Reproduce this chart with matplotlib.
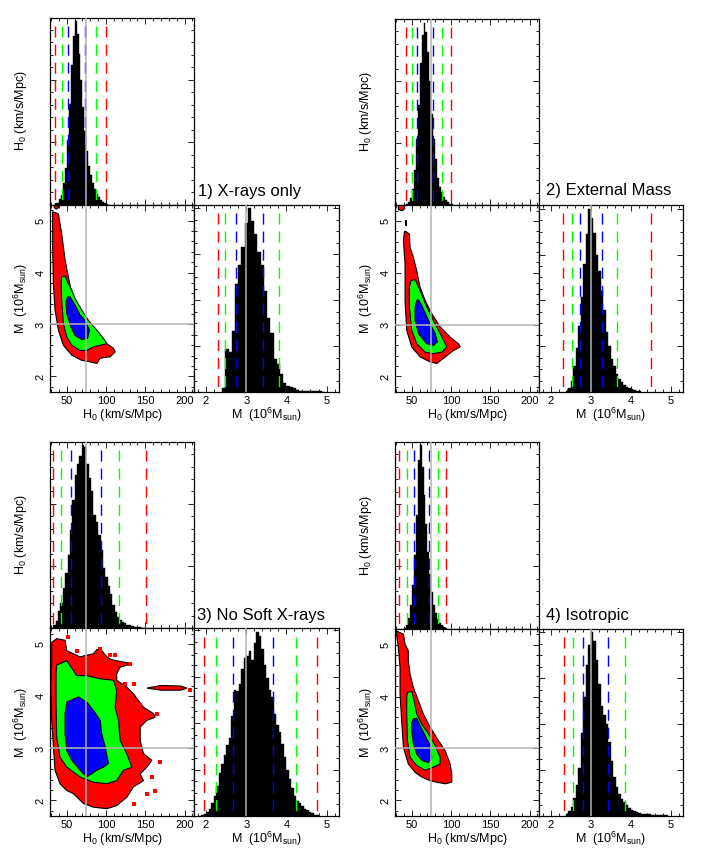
import numpy as np
import matplotlib
matplotlib.use('Agg')
import matplotlib.pyplot as plt
from matplotlib.ticker import MultipleLocator, NullFormatter

plt.rcParams['font.family'] = ['Liberation Sans', 'DejaVu Sans']
plt.rcParams['mathtext.fontset'] = 'custom'
plt.rcParams['mathtext.rm'] = 'Liberation Sans'
plt.rcParams['mathtext.it'] = 'Liberation Sans'
plt.rcParams['lines.scale_dashes'] = False

# ---- data ----
titles = ['1) X-rays only', '2) External Mass', '3) No Soft X-rays', '4) Isotropic']
H0_TRUE = 74.0
M_TRUE = 3.0

# H0 histograms: left edge, bin width, relative counts
h0_left = [35.0, 42.5, 33.0, 40.0]
h0_width = [2.5, 2.5, 3.0, 2.5]
h0_counts_1 = [0.01, 0.01, 0.03, 0.05, 0.12, 0.20, 0.35, 0.55, 0.76, 0.92, 1.0, 0.93, 0.82, 0.68,
               0.53, 0.40, 0.29, 0.21, 0.16, 0.12, 0.085, 0.055, 0.04, 0.025, 0.015, 0.008, 0.004]
h0_counts_2 = [0.005, 0.015, 0.04, 0.09, 0.19, 0.36, 0.55, 0.78, 0.93, 1.0, 0.95, 0.84, 0.68, 0.50,
               0.36, 0.25, 0.15, 0.10, 0.07, 0.045, 0.025, 0.015, 0.008, 0.004]
h0_counts_3 = [0.016, 0.04, 0.097, 0.14, 0.22, 0.30, 0.40, 0.54, 0.70, 0.84, 0.90, 0.94, 1.00, 0.99,
               0.90, 0.82, 0.75, 0.62, 0.58, 0.51, 0.43, 0.33, 0.28, 0.23, 0.19, 0.13, 0.088, 0.06,
               0.045, 0.035, 0.028, 0.02, 0.016, 0.012, 0.009, 0.007, 0.005, 0.004, 0.003]
h0_counts_4 = [0.005, 0.02, 0.06, 0.13, 0.24, 0.40, 0.62, 0.92, 1.0, 0.88, 0.73, 0.57, 0.42, 0.30,
               0.20, 0.13, 0.085, 0.05, 0.03, 0.018, 0.01, 0.005]

# M histograms (10^6 Msun)
m_left = [2.40, 2.375, 1.875, 2.375]
m_width = [0.08, 0.0625, 0.0625, 0.0625]
m_counts_1 = [0.02, 0.235, 0.22, 0.33, 0.59, 0.69, 0.79, 0.92, 1.00, 0.93, 0.86, 0.76, 0.69, 0.55,
              0.40, 0.32, 0.18, 0.15, 0.10, 0.05, 0.035, 0.028, 0.02, 0.012, 0.008, 0.006, 0.005,
              0.004, 0.004, 0.005, 0.003, 0.002]
m_counts_2 = [0.005, 0.02, 0.06, 0.14, 0.24, 0.36, 0.52, 0.70, 0.86, 1.00, 0.95, 0.87, 0.75, 0.66,
              0.55, 0.45, 0.33, 0.25, 0.18, 0.14, 0.10, 0.07, 0.055, 0.04, 0.03, 0.022, 0.015,
              0.01, 0.007, 0.004]
m_counts_3 = [0.005, 0.01, 0.02, 0.04, 0.07, 0.11, 0.16, 0.23, 0.28, 0.33, 0.38, 0.42, 0.54, 0.68,
              0.67, 0.71, 0.79, 0.85, 0.86, 0.89, 0.84, 0.93, 0.99, 0.97, 0.90, 0.81, 0.74, 0.68,
              0.64, 0.55, 0.49, 0.45, 0.39, 0.32, 0.25, 0.20, 0.15, 0.11, 0.08, 0.07, 0.055, 0.04,
              0.03, 0.022, 0.015, 0.008, 0.004]
m_counts_4 = [0.012, 0.025, 0.05, 0.10, 0.17, 0.26, 0.45, 0.65, 0.82, 0.93, 1.00, 0.95, 0.85, 0.72,
              0.60, 0.55, 0.50, 0.40, 0.30, 0.21, 0.16, 0.12, 0.095, 0.075, 0.06, 0.045, 0.035,
              0.028, 0.02, 0.017, 0.013, 0.011, 0.01, 0.009, 0.008, 0.008, 0.007, 0.007, 0.006,
              0.006, 0.005]

# credible limits (3s lo, 2s lo, 1s lo, 1s hi, 2s hi, 3s hi)
h0_lines_1 = [35.5, 44.0, 52.0, 73.3, 87.0, 100.0]
h0_lines_2 = [42.7, 50.0, 56.8, 77.6, 88.6, 100.5]
h0_lines_3 = [33.0, 42.3, 55.0, 93.8, 116.8, 151.2]
h0_lines_4 = [33.8, 44.4, 52.5, 71.7, 84.0, 94.0]
m_lines_1 = [2.29, 2.48, 2.74, 3.43, 3.82]
m_lines_2 = [2.29, 2.52, 2.72, 3.28, 3.65, 4.50]
m_lines_3 = [1.96, 2.26, 2.675, 3.675, 4.25, 4.75]
m_lines_4 = [2.33, 2.55, 2.81, 3.42, 3.86]
line_colors = ['#ff0000', '#00ff00', '#0000ff', '#0000ff', '#00ff00', '#ff0000']

# 2D credible regions, (H0, M) outlines
red_1 = [(32, 5.17), (39.4, 5.13), (43.6, 4.75), (47.9, 4.24), (52, 3.92), (56.4, 3.6), (62.8, 3.34),
         (71.3, 3.15), (79.8, 2.96), (90.4, 2.76), (101, 2.63), (109.5, 2.54), (111.6, 2.47),
         (105.3, 2.38), (92.5, 2.35), (88.3, 2.25), (80, 2.28), (69, 2.31), (56.4, 2.41),
         (45.7, 2.6), (39.4, 2.89), (35.1, 3.28), (33, 3.79), (32.1, 4.43), (32, 5.07)]
green_1 = [(43.6, 3.92), (47.9, 3.93), (52, 3.79), (56.4, 3.66), (60.6, 3.5), (69, 3.28), (77.6, 3.08),
           (88.3, 2.89), (96.8, 2.73), (101, 2.63), (92.5, 2.6), (84, 2.57), (75.5, 2.5), (67, 2.5),
           (56.4, 2.6), (50, 2.76), (45.7, 3.02), (43.6, 3.47), (42.8, 3.79)]
blue_1 = [(54.3, 3.53), (60.6, 3.37), (67, 3.18), (73.4, 3.08), (78.9, 2.89), (76.4, 2.73), (69, 2.71),
          (60.6, 2.79), (55.1, 2.96), (50, 3.21), (49.1, 3.44), (51.3, 3.53)]
extra_1 = [[(34, 5.25), (37, 5.22), (40, 5.26), (38.5, 5.31), (34, 5.31)]]
dots_1 = []

red_2 = [(41.5, 4.81), (47, 4.75), (47.9, 4.49), (52.1, 4.3), (56.4, 4.04), (60.6, 3.72), (67, 3.47),
         (75.5, 3.21), (86.1, 2.96), (98.9, 2.76), (109.5, 2.63), (111.7, 2.57), (103.1, 2.5),
         (90.4, 2.35), (81.9, 2.25), (73.4, 2.28), (60.6, 2.38), (50, 2.57), (43.6, 2.89),
         (41.5, 3.47), (41.5, 4.17), (39.4, 4.62), (40.6, 4.78)]
green_2 = [(49.1, 3.85), (54.3, 3.87), (60.6, 3.66), (69.1, 3.34), (77.6, 3.08), (86.1, 2.83),
           (94.6, 2.57), (88.3, 2.47), (77.6, 2.44), (67, 2.47), (56.4, 2.63), (50, 2.89), (47, 3.34),
           (47, 3.72)]
blue_2 = [(58.5, 3.48), (62.8, 3.37), (71.3, 3.08), (79.8, 2.83), (82.7, 2.67), (77.6, 2.6), (69.1, 2.63),
          (58.5, 2.83), (54.3, 3.08), (54.3, 3.34), (56.4, 3.47)]
extra_2 = [[(33, 5.22), (38, 5.2), (41, 5.24), (41, 5.32), (33, 5.32)],
           [(40.8, 4.93), (42.2, 4.93), (42.2, 5.02), (40.8, 5.02)]]
dots_2 = []

red_3 = [(30.9, 5.04), (37.2, 5.11), (47.9, 5.08), (50, 4.88), (58.5, 4.82), (67, 4.76), (74.5, 4.79),
         (84, 4.82), (88.3, 4.9), (94.6, 4.88), (101, 4.76), (105.3, 4.72), (111.6, 4.69),
         (133, 4.63), (117.8, 4.56), (113.6, 4.44), (113.6, 4.31), (126.4, 4.18), (134.9, 4.05),
         (147.7, 3.79), (160.5, 3.67), (162.6, 3.6), (152, 3.54), (143.5, 3.41), (143.5, 3.15),
         (147.7, 2.9), (158.4, 2.77), (152, 2.64), (143.5, 2.51), (147.7, 2.38), (134.9, 2.26),
         (126.4, 2.06), (113.6, 1.9), (101, 1.84), (84, 1.87), (71.3, 1.94), (58.5, 2.13),
         (50, 2.19), (41.5, 2.32), (35.1, 2.58), (33, 3.03), (30.9, 3.54), (29.6, 4.18), (30.9, 4.69)]
green_3 = [(37.2, 4.6), (50, 4.69), (62.8, 4.4), (75.5, 4.4), (84, 4.37), (92.5, 4.34), (109.5, 4.31),
           (113.6, 4.12), (111.6, 3.79), (115.9, 3.54), (118, 3.15), (126.4, 2.9), (132.8, 2.64),
           (122.2, 2.58), (113.6, 2.38), (101, 2.32), (84, 2.35), (67, 2.45), (50, 2.64),
           (41.5, 2.83), (37.2, 3.22), (36.4, 3.86), (36.4, 4.44)]
blue_3 = [(50, 3.89), (64.9, 3.99), (75.5, 3.89), (84, 3.73), (92.5, 3.54), (94.6, 3.28), (98.9, 3.03),
          (103.1, 2.71), (96.8, 2.64), (88.3, 2.58), (75.5, 2.45), (67, 2.58), (56.4, 2.77),
          (50, 2.96), (47.9, 3.28), (47.9, 3.67)]
extra_3 = [[(152, 4.16), (170, 4.12), (195, 4.12), (203, 4.16), (195, 4.2), (170, 4.21)]]
dots_3 = [(52, 5.15), (92.5, 4.92), (105.3, 4.79), (111.6, 4.79), (130.8, 4.63), (124.4, 4.24),
          (135, 4.24), (143.5, 3.83), (164.8, 3.67), (169, 2.74), (158.4, 2.45), (162.6, 2.19),
          (152, 2.13), (135, 1.94), (207, 4.13), (62.8, 4.88)]

red_4 = [(30.9, 5.26), (39.4, 5.2), (41.5, 5.01), (45.7, 4.88), (45.7, 4.69), (47.9, 4.43), (52.1, 4.17),
         (58.5, 3.92), (64.9, 3.66), (73.4, 3.41), (84, 3.15), (92.5, 2.96), (98.9, 2.7), (101, 2.51),
         (101, 2.35), (92.5, 2.32), (81.9, 2.35), (73.4, 2.38), (62.8, 2.45), (54.3, 2.54),
         (45.7, 2.7), (39.4, 3.02), (37.2, 3.53), (35.1, 4.05), (35.1, 4.56), (33, 4.94), (30.9, 5.17)]
green_4 = [(44.5, 4.08), (50, 4.1), (53, 3.92), (56.4, 3.66), (62.8, 3.47), (71.3, 3.28), (79.8, 3.06),
           (86.1, 2.83), (86.1, 2.7), (77.6, 2.64), (67, 2.58), (56.4, 2.67), (47.9, 2.83),
           (44.5, 3.15), (43.6, 3.66), (43.6, 3.99)]
blue_4 = [(52.1, 3.57), (56.4, 3.58), (60.6, 3.44), (67, 3.25), (73.4, 3.06), (75.5, 2.83), (71.3, 2.73),
          (62.8, 2.77), (56.4, 2.89), (52.1, 3.09), (50, 3.34), (50, 3.5)]
extra_4 = []
dots_4 = []

h0_counts = [h0_counts_1, h0_counts_2, h0_counts_3, h0_counts_4]
m_counts = [m_counts_1, m_counts_2, m_counts_3, m_counts_4]
h0_lines = [h0_lines_1, h0_lines_2, h0_lines_3, h0_lines_4]
m_lines = [m_lines_1, m_lines_2, m_lines_3, m_lines_4]
regions = [(red_1, green_1, blue_1, extra_1, dots_1), (red_2, green_2, blue_2, extra_2, dots_2),
           (red_3, green_3, blue_3, extra_3, dots_3), (red_4, green_4, blue_4, extra_4, dots_4)]

# ---- layout (pixels) ----
W, H = 707, 857
# left, mid, right, top, middle, bottom
boxes = [(50, 194, 339, 17.5, 204.5, 392), (395, 539, 683, 19, 205, 392),
         (50, 194, 339, 441.7, 628.3, 816), (395, 539, 683, 441.7, 628.5, 816)]
title_pos = [(198, 196), (546, 195), (197, 620), (546, 620)]

H0_LIM = (28.7, 212)
M_LIM = (1.7, 5.31)
TRUTH_COLOR = '#b4b4b4'
FS = 9
TFS = 8

fig = plt.figure(figsize=(W / 100, H / 100), dpi=100)


def add_ax(x0, y0, x1, y1):
    return fig.add_axes([x0 / W, 1 - y1 / H, (x1 - x0) / W, (y1 - y0) / H])


def style(ax):
    ax.tick_params(which='both', direction='in', top=True, right=True, labelsize=TFS, pad=3,
                   width=0.6)
    ax.tick_params(which='major', length=4)
    ax.tick_params(which='minor', length=2)
    for s in ax.spines.values():
        s.set_linewidth(0.9)


def draw_lines(ax, xs, ytop):
    for x, c in zip(xs, line_colors):
        ax.plot([x, x], [ytop * 0.955, 0], color=c, lw=1.0, dashes=(8, 5), zorder=3)


h0_label = r'H$_0$ (km/s/Mpc)'
m_label = r'M  (10$^6$M$_{\rm sun}$)'

for i in range(4):
    left, mid, right, top, middle, bottom = boxes[i]

    # H0 marginal
    ax_h = add_ax(left, top, mid, middle)
    hc = np.array(h0_counts[i])
    edges = h0_left[i] + h0_width[i] * np.arange(len(hc))
    ax_h.bar(edges, hc, width=h0_width[i], align='edge', color='black',
             edgecolor='black', linewidth=0.3, zorder=2)
    ytop = hc.max() * 1.02
    ax_h.set_xlim(*H0_LIM)
    ax_h.set_ylim(0, ytop)
    ax_h.axvline(H0_TRUE, color=TRUTH_COLOR, lw=1.1, zorder=4)
    draw_lines(ax_h, h0_lines[i], ytop)
    ax_h.xaxis.set_major_locator(MultipleLocator(50))
    ax_h.xaxis.set_minor_locator(MultipleLocator(10))
    ax_h.yaxis.set_major_locator(MultipleLocator(0.34))
    ax_h.yaxis.set_minor_locator(MultipleLocator(0.068))
    ax_h.xaxis.set_major_formatter(NullFormatter())
    ax_h.yaxis.set_major_formatter(NullFormatter())
    ax_h.set_ylabel(h0_label, fontsize=FS, va='center')
    ax_h.yaxis.set_label_coords(-0.2, 0.5)
    style(ax_h)

    # joint
    ax_c = add_ax(left, middle, mid, bottom)
    red, green, blue, extra, dots = regions[i]
    for poly in extra:
        xs, ys = zip(*poly)
        ax_c.fill(xs, ys, facecolor='#ff0000', edgecolor='black', lw=0.8, zorder=1)
    for poly, col in ((red, '#ff0000'), (green, '#00ff00'), (blue, '#0000ff')):
        xs, ys = zip(*poly)
        ax_c.fill(xs, ys, facecolor=col, edgecolor='black', lw=0.8, zorder=2)
    if dots:
        dx, dy = zip(*dots)
        ax_c.plot(dx, dy, 's', color='#ff0000', ms=2.6, mew=0, zorder=2)
    ax_c.axvline(H0_TRUE, color=TRUTH_COLOR, lw=1.1, zorder=4)
    ax_c.axhline(M_TRUE, color=TRUTH_COLOR, lw=1.1, zorder=4)
    ax_c.set_xlim(*H0_LIM)
    ax_c.set_ylim(*M_LIM)
    ax_c.xaxis.set_major_locator(MultipleLocator(50))
    ax_c.xaxis.set_minor_locator(MultipleLocator(10))
    ax_c.yaxis.set_major_locator(MultipleLocator(1))
    ax_c.yaxis.set_minor_locator(MultipleLocator(0.2))
    style(ax_c)
    for lab in ax_c.get_yticklabels():
        lab.set_rotation(90)
        lab.set_va('center')
    ax_c.set_xlabel(h0_label, fontsize=FS, va='center')
    ax_c.xaxis.set_label_coords(0.5, -0.123)
    ax_c.set_ylabel(m_label, fontsize=FS, va='center')
    ax_c.yaxis.set_label_coords(-0.2, 0.5)

    # M marginal
    ax_m = add_ax(mid, middle, right, bottom)
    mc = np.array(m_counts[i])
    medges = m_left[i] + m_width[i] * np.arange(len(mc))
    ax_m.bar(medges, mc, width=m_width[i], align='edge', color='black',
             edgecolor='black', linewidth=0.3, zorder=2)
    mtop = mc.max() * 1.02
    ax_m.set_xlim(*M_LIM)
    ax_m.set_ylim(0, mtop)
    ax_m.axvline(M_TRUE, color=TRUTH_COLOR, lw=1.1, zorder=4)
    draw_lines(ax_m, m_lines[i], mtop)
    ax_m.xaxis.set_major_locator(MultipleLocator(1))
    ax_m.xaxis.set_minor_locator(MultipleLocator(0.2))
    ax_m.yaxis.set_major_locator(MultipleLocator(0.25))
    ax_m.yaxis.set_minor_locator(MultipleLocator(0.0625))
    ax_m.yaxis.set_major_formatter(NullFormatter())
    ax_m.set_xlabel(m_label, fontsize=FS, va='center')
    ax_m.xaxis.set_label_coords(0.5, -0.123)
    style(ax_m)

    tx, ty = title_pos[i]
    fig.text(tx / W, 1 - ty / H, titles[i], fontsize=12, va='baseline', ha='left')

fig.savefig('out.png', dpi=100)
